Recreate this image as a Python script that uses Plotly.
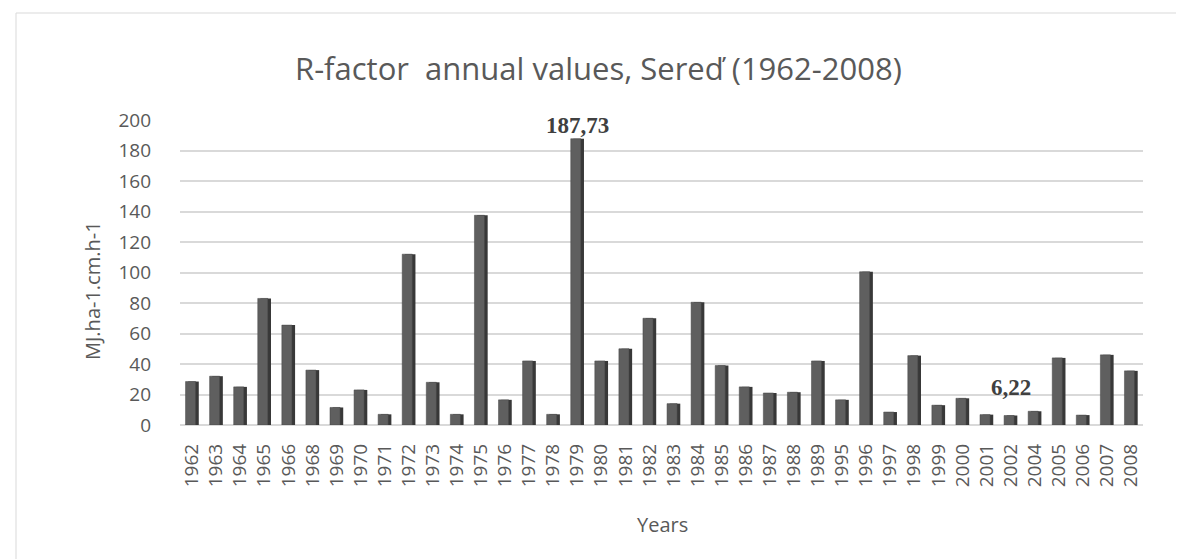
import plotly.graph_objects as go

years = ["1962", "1963", "1964", "1965", "1966", "1968", "1969", "1970", "1971", "1972",
         "1973", "1974", "1975", "1976", "1977", "1978", "1979", "1980", "1981", "1982",
         "1983", "1984", "1985", "1986", "1987", "1988", "1989", "1995", "1996", "1997",
         "1998", "1999", "2000", "2001", "2002", "2004", "2005", "2006", "2007", "2008"]
r_factor = [28.5, 32.0, 25.0, 83.0, 65.5, 36.0, 11.5, 23.0, 7.0, 112.0,
            28.0, 7.0, 137.5, 16.5, 42.0, 7.0, 187.73, 42.0, 50.0, 70.0,
            14.0, 80.5, 39.0, 25.0, 21.0, 21.5, 42.0, 16.5, 100.5, 8.5,
            45.5, 13.0, 17.5, 6.8, 6.22, 9.0, 44.0, 6.5, 46.0, 35.5]
label_years = ["1979", "2002"]

title_text = "R-factor\u00a0\u00a0annual values, Sereď (1962-2008)"
y_title = "MJ.ha-1.cm.h-1"
x_title = "Years"

L, R, T, B = 172, 49, 112, 142
W, H = 1184, 559
pw, ph = W - L - R, H - T - B


def px_x(p):
    return (p - L) / pw


def px_y(p):
    return (H - B - p) / ph


TXT = "#595959"
fig = go.Figure()
# darker side of each column (pseudo 3D)
fig.add_trace(go.Bar(x=years, y=r_factor, width=0.44, offset=-0.16,
                     marker=dict(color="#383838", line=dict(width=0)),
                     hoverinfo="skip", showlegend=False))
# front face
fig.add_trace(go.Bar(x=years, y=r_factor, width=0.42, offset=-0.27,
                     marker=dict(color="#5f5f5f", line=dict(color="#454545", width=0.5)),
                     showlegend=False))

annotations = []
for yr in label_years:
    i = years.index(yr)
    v = r_factor[i]
    txt = ("%.2f" % v).replace(".", ",")
    annotations.append(dict(x=i, y=v, xref="x", yref="y", text="<b>%s</b>" % txt,
                            showarrow=False, yanchor="bottom",
                            yshift=-1 if v > 100 else 14,
                            font=dict(family="Liberation Serif", size=23, color="#404040")))

annotations.append(dict(x=px_x(590), y=px_y(60), xref="paper", yref="paper",
                        text=title_text, showarrow=False, xanchor="center", yanchor="middle",
                        font=dict(family="Open Sans", size=31, color=TXT)))
annotations.append(dict(x=px_x(84), y=px_y(283), xref="paper", yref="paper",
                        text=y_title, showarrow=False, textangle=-90,
                        xanchor="center", yanchor="middle",
                        font=dict(family="Open Sans", size=20, color=TXT)))
annotations.append(dict(x=px_x(654), y=px_y(516), xref="paper", yref="paper",
                        text=x_title, showarrow=False,
                        xanchor="center", yanchor="middle",
                        font=dict(family="Open Sans", size=20, color=TXT)))

fig.update_layout(
    width=W, height=H,
    margin=dict(l=L, r=R, t=T, b=B, pad=0),
    paper_bgcolor="white", plot_bgcolor="white",
    barmode="overlay",
    font=dict(family="Open Sans", size=19, color=TXT),
    annotations=annotations,
    xaxis=dict(type="category", range=[-0.5, len(years) - 0.5], tickangle=-90,
               showgrid=False, showline=False, ticks="", ticklabelstandoff=14,
               tickfont=dict(size=19, color=TXT)),
    yaxis=dict(range=[0, 200], dtick=20, showgrid=True, gridcolor="#d9d9d9", gridwidth=2,
               zeroline=True, zerolinecolor="#d9d9d9", zerolinewidth=2,
               showline=False, ticks="", ticklabelstandoff=28,
               tickfont=dict(size=19, color=TXT)),
    shapes=[dict(type="rect", xref="paper", yref="paper",
                 x0=px_x(8), x1=px_x(1176), y0=px_y(553), y1=px_y(5),
                 line=dict(color="#d9d9d9", width=1), fillcolor="rgba(0,0,0,0)", layer="below")],
)

fig.write_html("out.html")
